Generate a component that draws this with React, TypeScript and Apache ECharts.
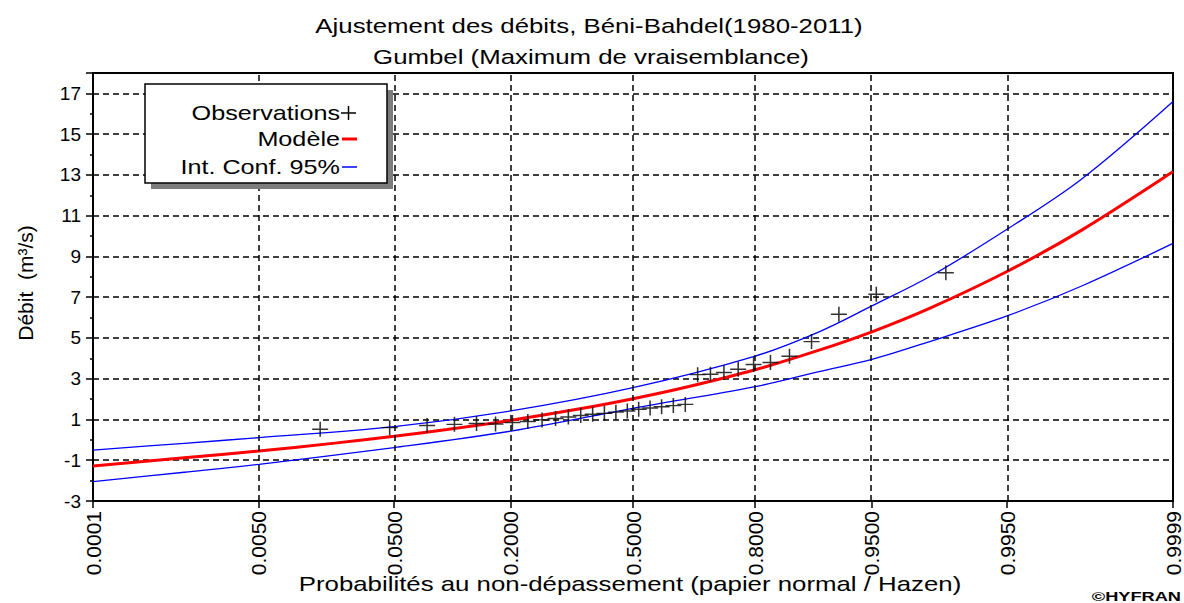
import React, { useEffect, useRef } from "react";
import * as echarts from "echarts";

// ---- Data ----
const TICK_PROBS = [0.0001, 0.005, 0.05, 0.2, 0.5, 0.8, 0.95, 0.995, 0.9999];
const TICK_LABELS = ["0.0001", "0.0050", "0.0500", "0.2000", "0.5000", "0.8000", "0.9500", "0.9950", "0.9999"];
const Y_MIN = -3;
const Y_MAX = 18;
const Y_STEP = 2;

// Observations (Hazen plotting positions, discharge m3/s)
const OBS_PROB = [
  0.0156, 0.0469, 0.0781, 0.1094, 0.1406, 0.1719, 0.2031, 0.2344, 0.2656, 0.2969, 0.3281,
  0.3594, 0.3906, 0.4219, 0.4531, 0.4844, 0.5156, 0.5469, 0.5781, 0.6094, 0.6406, 0.6719,
  0.7031, 0.7344, 0.7656, 0.7969, 0.8281, 0.8594, 0.8906, 0.9219, 0.9531, 0.9844,
];
const OBS_Q = [
  0.52, 0.6, 0.7, 0.76, 0.8, 0.78, 0.85, 0.9, 0.98, 1.05, 1.12,
  1.2, 1.26, 1.3, 1.36, 1.42, 1.5, 1.56, 1.62, 1.68, 1.74, 3.2,
  3.22, 3.3, 3.46, 3.7, 3.8, 4.1, 4.82, 6.16, 7.14, 8.2,
];

// Fitted Gumbel model curve
const MODEL_PROB = [0.0001, 0.001, 0.005, 0.02, 0.05, 0.1, 0.2, 0.35, 0.5, 0.65, 0.8, 0.9, 0.95, 0.98, 0.995, 0.999, 0.9999];
const MODEL_Q = [-1.28, -0.88, -0.55, -0.16, 0.18, 0.51, 0.96, 1.5, 2.02, 2.62, 3.44, 4.4, 5.3, 6.49, 8.26, 10.29, 13.16];

// 95% confidence interval
const CI_PROB = [0.0001, 0.001, 0.005, 0.05, 0.2, 0.5, 0.8, 0.9, 0.95, 0.98, 0.995, 0.999, 0.9999];
const CI_UPPER = [-0.5, -0.17, 0.11, 0.65, 1.42, 2.56, 4.11, 5.3, 6.57, 8.05, 10.33, 12.8, 16.6];
const CI_LOWER = [-2.05, -1.59, -1.2, -0.38, 0.43, 1.55, 2.61, 3.35, 3.95, 4.85, 6.08, 7.55, 9.64];

// Normal probability paper scale: probability -> standard normal quantile
function probit(p: number): number {
  const a = [-3.969683028665376e1, 2.209460984245205e2, -2.759285104469687e2, 1.38357751867269e2, -3.066479806614716e1, 2.506628277459239];
  const b = [-5.447609879822406e1, 1.615858368580409e2, -1.556989798598866e2, 6.680131188771972e1, -1.328068155288572e1];
  const c = [-7.784894002430293e-3, -3.223964580411365e-1, -2.400758277161838, -2.549732539343734, 4.374664141464968, 2.938163982698783];
  const d = [7.784695709041462e-3, 3.224671290700398e-1, 2.445134137142996, 3.754408661907416];
  const plow = 0.02425;
  if (p < plow) {
    const q = Math.sqrt(-2 * Math.log(p));
    return (((((c[0] * q + c[1]) * q + c[2]) * q + c[3]) * q + c[4]) * q + c[5]) / ((((d[0] * q + d[1]) * q + d[2]) * q + d[3]) * q + 1);
  }
  if (p <= 1 - plow) {
    const q = p - 0.5;
    const r = q * q;
    return ((((((a[0] * r + a[1]) * r + a[2]) * r + a[3]) * r + a[4]) * r + a[5]) * q) / (((((b[0] * r + b[1]) * r + b[2]) * r + b[3]) * r + b[4]) * r + 1);
  }
  const q = Math.sqrt(-2 * Math.log(1 - p));
  return -(((((c[0] * q + c[1]) * q + c[2]) * q + c[3]) * q + c[4]) * q + c[5]) / ((((d[0] * q + d[1]) * q + d[2]) * q + d[3]) * q + 1);
}

const FONT = "'Liberation Sans', Arial, sans-serif";

export default function App() {
  const ref = useRef<HTMLDivElement>(null);

  useEffect(() => {
    if (!ref.current) return;
    const chart = echarts.init(ref.current, undefined, { renderer: "svg" });
    const tickZ = TICK_PROBS.map(probit);
    const xMin = tickZ[0];
    const xMax = tickZ[tickZ.length - 1];
    const pair = (ps: number[], qs: number[]) => ps.map((p, i) => [probit(p), qs[i]]);
    const labelFor = (v: number) => {
      let best = 0;
      tickZ.forEach((z, i) => {
        if (Math.abs(z - v) < Math.abs(tickZ[best] - v)) best = i;
      });
      return TICK_LABELS[best];
    };
    const dashed = { color: "#000", width: 1.5, type: [6, 4] as any };
    const SX = 1.29;

    const txt = (text: string, x: number, y: number, opts: any = {}) => ({
      type: "text",
      x,
      y,
      scaleX: opts.scaleX ?? SX,
      rotation: opts.rotation ?? 0,
      silent: true,
      z: 100,
      style: {
        text,
        fontSize: opts.fontSize ?? 20,
        fontFamily: FONT,
        fontWeight: opts.fontWeight ?? "normal",
        fill: "#000",
        align: opts.align ?? "center",
        textAlign: opts.align ?? "center",
        verticalAlign: opts.vAlign ?? "middle",
        textVerticalAlign: opts.vAlign ?? "middle",
      },
    });

    const curve = (name: string, ps: number[], qs: number[], color: string, width: number, extra: any = {}) => ({
      name,
      type: "line",
      data: pair(ps, qs),
      smooth: 0.35,
      showSymbol: false,
      lineStyle: { color, width },
      ...extra,
    });

    chart.setOption({
      animation: false,
      backgroundColor: "#fff",
      grid: {
        left: 93,
        right: 11,
        top: 73,
        bottom: 102,
        show: true,
        borderColor: "#000",
        borderWidth: 2,
        backgroundColor: "transparent",
      },
      xAxis: {
        type: "value",
        min: xMin,
        max: xMax,
        axisLine: { show: true, onZero: false, lineStyle: { color: "#000", width: 2 } },
        axisTick: { show: true, customValues: tickZ, length: 7, lineStyle: { color: "#000", width: 1.5 } },
        axisLabel: {
          show: true,
          customValues: tickZ,
          rotate: 90,
          margin: 10,
          fontSize: 21,
          fontFamily: FONT,
          color: "#000",
          formatter: (v: number) => labelFor(v),
        },
        splitLine: { show: false },
      },
      yAxis: {
        type: "value",
        min: Y_MIN,
        max: Y_MAX,
        interval: Y_STEP,
        axisLine: { show: true, onZero: false, lineStyle: { color: "#000", width: 2 } },
        axisTick: { show: true, length: 7, lineStyle: { color: "#000", width: 1.5 } },
        minorTick: { show: true, splitNumber: 2, length: 3, lineStyle: { color: "#000", width: 1.5 } },
        axisLabel: {
          showMaxLabel: false,
          margin: 12,
          fontSize: 19,
          fontFamily: FONT,
          color: "#000",
        },
        splitLine: { show: true, lineStyle: dashed },
      },
      graphic: [
        txt("Ajustement des débits, Béni-Bahdel(1980-2011)", 589, 26),
        txt("Gumbel (Maximum de vraisemblance)", 591, 57),
        txt("Probabilités au non-dépassement (papier normal / Hazen)", 630, 584),
        txt("Débit  (m³/s)", 25, 283, { rotation: Math.PI / 2, scaleX: 1, fontSize: 21 }),
        txt("©HYFRAN", 1181, 603, { align: "right", vAlign: "bottom", fontSize: 13, fontWeight: "bold", scaleX: 1.4 }),
        // legend box
        {
          type: "rect",
          z: 90,
          silent: true,
          shape: { x: 151, y: 90, width: 242, height: 99 },
          style: { fill: "#7c7c7c" },
        },
        {
          type: "rect",
          z: 91,
          silent: true,
          shape: { x: 145, y: 84, width: 242, height: 99 },
          style: { fill: "#fff", stroke: "#000", lineWidth: 1.5 },
        },
        txt("Observations", 340, 113, { align: "right", scaleX: 1.26 }),
        txt("Modèle", 340, 139, { align: "right", scaleX: 1.26 }),
        txt("Int. Conf. 95%", 340, 167, { align: "right", scaleX: 1.26 }),
        { type: "line", z: 100, silent: true, shape: { x1: 341, y1: 113, x2: 356, y2: 113 }, style: { stroke: "#000", lineWidth: 1.5 } },
        { type: "line", z: 100, silent: true, shape: { x1: 348.5, y1: 106, x2: 348.5, y2: 120 }, style: { stroke: "#000", lineWidth: 1.5 } },
        { type: "line", z: 100, silent: true, shape: { x1: 342, y1: 139, x2: 357, y2: 139 }, style: { stroke: "#ff0000", lineWidth: 3 } },
        { type: "line", z: 100, silent: true, shape: { x1: 342, y1: 167, x2: 357, y2: 167 }, style: { stroke: "#0000ff", lineWidth: 1.5 } },
      ],
      series: [
        curve("Int. Conf. 95% (sup)", CI_PROB, CI_UPPER, "#0000ff", 1.3, {
          markLine: {
            silent: true,
            symbol: "none",
            label: { show: false },
            lineStyle: dashed,
            data: tickZ.slice(1, -1).map((z) => ({ xAxis: z })),
          },
        }),
        curve("Int. Conf. 95% (inf)", CI_PROB, CI_LOWER, "#0000ff", 1.3),
        curve("Modèle", MODEL_PROB, MODEL_Q, "#ff0000", 3),
        {
          name: "Observations",
          type: "scatter",
          data: pair(OBS_PROB, OBS_Q),
          symbol: "path://M8,0 L8,16 M0,8 L16,8",
          symbolSize: [16, 15],
          itemStyle: { color: "none", borderColor: "#000", borderWidth: 1.5 },
          z: 5,
        },
      ],
    });

    return () => chart.dispose();
  }, []);

  return <div ref={ref} style={{ position: "fixed", left: 0, top: 0, width: 1184, height: 603 }} />;
}
